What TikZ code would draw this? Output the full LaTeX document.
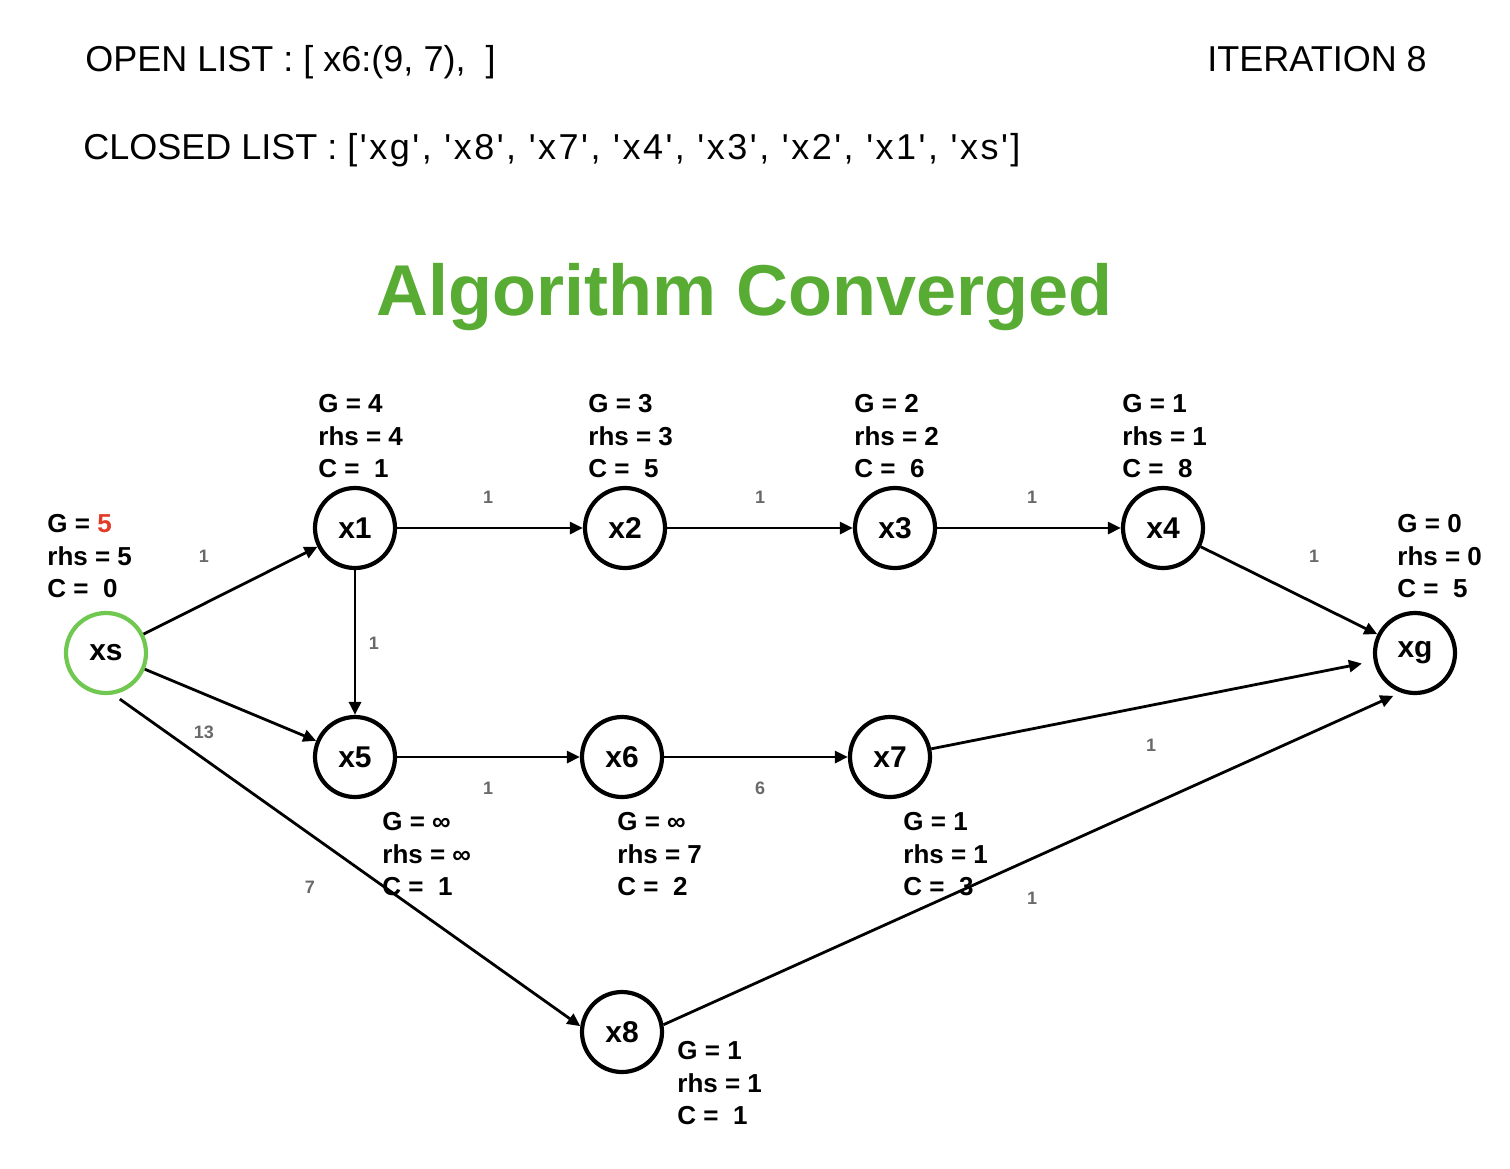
\documentclass[tikz,border=0pt]{standalone}
\usepackage{fontspec}
\setmainfont{Liberation Sans}[Ligatures=TeXOff]
\usetikzlibrary{arrows.meta}
\definecolor{titlegreen}{RGB}{88,172,52}
\definecolor{startgreen}{RGB}{112,200,80}
\definecolor{gred}{RGB}{226,58,38}
\definecolor{wgray}{RGB}{105,105,105}
\tikzset{
  vertex/.style={draw,circle,line width=2.1pt,minimum size=40pt,inner sep=0pt,
    font=\fontsize{15}{17}\selectfont\bfseries},
  vals/.style={anchor=north west,inner sep=0pt,align=left,
    font=\fontsize{13}{16.25}\selectfont\bfseries},
  wt/.style={inner sep=0pt,text=wgray,font=\fontsize{9}{10}\selectfont\bfseries},
  edge/.style={line width=1.4pt,-{Triangle[length=6.5pt,width=6pt]}},
  header/.style={anchor=base west,inner sep=0pt,font=\fontsize{18}{21}\selectfont}
}
\begin{document}
\begin{tikzpicture}[x=0.5pt,y=-0.5pt]
\useasboundingbox (0,0) rectangle (1510,1168);
% lists and title
\node[header] (open) at (85,71) {OPEN LIST : [ x6:(9, 7),~ ]};
\node[header] (closed) at (83,159) {CLOSED LIST :
  {\addfontfeatures{LetterSpace=7}['xg', 'x8', 'x7', 'x4', 'x3', 'x2', 'x1', 'xs']}};
\node[header] (iter) at (1207,71) {ITERATION 8};
\node[anchor=base,inner sep=0pt,text=titlegreen,font=\fontsize{36}{40}\selectfont\bfseries]
  (title) at (745,315) {Algorithm Converged};
% states
\node[vertex,draw=startgreen] (xs) at (106,653) {xs};
\node[vertex] (x1) at (355,528) {x1};
\node[vertex] (x2) at (625,528) {x2};
\node[vertex] (x3) at (895,528) {x3};
\node[vertex] (x4) at (1163,528) {x4};
\node[vertex] (xg) at (1415,653) {xg};
\node[vertex] (x5) at (355,757) {x5};
\node[vertex] (x6) at (622,757) {x6};
\node[vertex] (x7) at (890,757) {x7};
\node[vertex] (x8) at (622,1032) {x8};
% values
\node[vals] (vs) at (47,514) {G = \textcolor{gred}{5}\\rhs = 5\\C = ~0};
\node[vals] (v1) at (318,394) {G = 4\\rhs = 4\\C = ~1};
\node[vals] (v2) at (588,394) {G = 3\\rhs = 3\\C = ~5};
\node[vals] (v3) at (854,394) {G = 2\\rhs = 2\\C = ~6};
\node[vals] (v4) at (1122,394) {G = 1\\rhs = 1\\C = ~8};
\node[vals] (vg) at (1397,514) {G = 0\\rhs = 0\\C = ~5};
\node[vals] (v5) at (382,812) {G = ∞\\rhs = ∞\\C = ~1};
\node[vals] (v6) at (617,812) {G = ∞\\rhs = 7\\C = ~2};
\node[vals] (v7) at (903,812) {G = 1\\rhs = 1\\C = ~3};
\node[vals] (v8) at (677,1041) {G = 1\\rhs = 1\\C = ~1};
% edges
\draw[edge] (xs) -- (x1);
\draw[edge] (x1) -- (x2);
\draw[edge] (x2) -- (x3);
\draw[edge] (x3) -- (x4);
\draw[edge] (x4) -- (xg);
\draw[edge] (x1) -- (x5);
\draw[edge] (xs) -- (x5);
\draw[edge] (x5) -- (x6);
\draw[edge] (x6) -- (x7);
\draw[edge,shorten >=6pt] (x7) -- (xg);
\draw[edge,shorten <=4pt] (xs.280) -- (x8.172);
\draw[edge,shorten >=4pt] (x8.10) -- (xg.250);
% weights
\node[wt] (w1) at (204,556) {1};
\node[wt] (w2) at (488,497) {1};
\node[wt] (w3) at (760,497) {1};
\node[wt] (w4) at (1032,497) {1};
\node[wt] (w5) at (1314,556) {1};
\node[wt] (w6) at (374,643) {1};
\node[wt] (w7) at (204,732) {13};
\node[wt] (w8) at (488,788) {1};
\node[wt] (w9) at (760,788) {6};
\node[wt] (w10) at (1151,745) {1};
\node[wt] (w11) at (310,887) {7};
\node[wt] (w12) at (1032,898) {1};
\end{tikzpicture}
\end{document}
